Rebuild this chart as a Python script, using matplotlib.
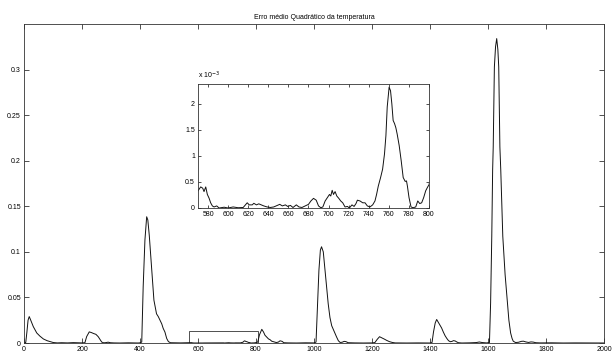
import numpy as np
from matplotlib import pyplot as plt

# Erro medio quadratico da temperatura
t_ini = [0, 6, 10, 14, 18, 22, 32, 44, 55, 67, 80, 90, 101, 115, 130, 150, 170, 185,
         200, 210, 216, 225, 232, 240, 248, 256, 262, 268, 275, 282, 290, 298, 310,
         330, 360, 394, 400, 406, 411, 417, 423, 427, 432, 440, 448, 457, 463, 469,
         475, 480, 486, 492, 498, 505, 520, 540, 560]
erro_ini = [0.0, 0.0005, 0.012, 0.025, 0.029, 0.026, 0.018, 0.011, 0.0075, 0.0044,
            0.0025, 0.0016, 0.0005, 0.0001, 0.0003, 0.0001, 0.0004, 0.0002, 0.0001,
            0.0003, 0.007, 0.0122, 0.0115, 0.0104, 0.0095, 0.0069, 0.004, 0.001,
            0.0002, 0.0004, 0.0009, 0.0003, 0.0001, 0.0, 0.0002, 0.0, 0.0002, 0.001,
            0.062, 0.113, 0.1385, 0.135, 0.118, 0.082, 0.047, 0.032, 0.029, 0.025,
            0.021, 0.016, 0.012, 0.005, 0.0015, 0.0003, 0.0002, 0.0001, 0.0002]

# trecho ampliado 570-800 (valores em 1e-3)
t_zoom = [570, 572.7, 574.7, 576, 577.7, 579.3, 581, 582.6, 584.3, 586, 588.6, 591,
          596, 600, 605, 610, 615, 619, 621, 624, 625.6, 628.2, 630.5, 632.9, 635.5,
          638.8, 642, 645.4, 651.4, 654, 657, 659.3, 662, 664.6, 667.9, 670.5, 673.5,
          676.8, 680, 682.4, 685, 687.7, 690, 692.3, 694.3, 696.6, 698.9, 700.9, 702.2,
          703.6, 704.9, 706.5, 708.2, 710.2, 712.1, 714.1, 716.4, 718.8, 720.7, 723.3,
          725.4, 727.3, 728.7, 731.3, 734, 736.3, 738.6, 741.2, 743.9, 746.2, 747.8,
          749.5, 751.8, 753.8, 755.7, 757.1, 758.4, 759.7, 760.3, 761.7, 763, 764.3,
          765.7, 767, 768.3, 770.3, 772.3, 774.3, 776.3, 777.6, 778.5, 780.1, 782.1,
          784.1, 786.8, 788.8, 790.8, 792.7, 794.7, 796.7, 798.7, 800]
erro_zoom_e3 = [0.33, 0.405, 0.38, 0.315, 0.405, 0.26, 0.19, 0.10, 0.04, 0.02, 0.04,
                0.0, 0.015, 0.0, 0.02, 0.005, 0.01, 0.10, 0.06, 0.06, 0.09, 0.06, 0.08,
                0.06, 0.04, 0.02, 0.01, 0.02, 0.07, 0.04, 0.06, 0.03, 0.05, 0.01, 0.06,
                0.02, 0.01, 0.04, 0.07, 0.135, 0.185, 0.15, 0.04, 0.005, 0.02, 0.135,
                0.2, 0.26, 0.23, 0.34, 0.26, 0.315, 0.23, 0.185, 0.135, 0.10, 0.02, 0.03,
                0.0, 0.06, 0.03, 0.085, 0.15, 0.135, 0.10, 0.1, 0.04, 0.02, 0.06, 0.135,
                0.26, 0.42, 0.585, 0.745, 1.04, 1.39, 1.94, 2.19, 2.32, 2.25, 2.0, 1.68,
                1.62, 1.54, 1.42, 1.2, 0.91, 0.585, 0.51, 0.52, 0.42, 0.2, 0.02, 0.005,
                0.02, 0.135, 0.085, 0.10, 0.2, 0.33, 0.405, 0.445]

t_fim = [806, 812, 820, 826, 831, 837, 843, 849, 854, 862, 870, 877, 883, 890, 896,
         910, 940, 970, 1000, 1007, 1011, 1017, 1022, 1026, 1032, 1038, 1044, 1049,
         1055, 1061, 1067, 1072, 1078, 1084, 1090, 1097, 1104, 1110, 1118, 1140, 1170,
         1200, 1210, 1218, 1226, 1235, 1243, 1251, 1260, 1270, 1280, 1320, 1360, 1400,
         1407, 1412, 1418, 1423, 1428, 1434, 1440, 1446, 1452, 1458, 1464, 1470, 1476,
         1481, 1487, 1492, 1498, 1510, 1540, 1560, 1570, 1580, 1595, 1605, 1609, 1613,
         1616, 1618, 1622, 1626, 1630, 1634, 1637, 1641, 1644, 1651, 1659, 1667, 1672,
         1678, 1683, 1687, 1695, 1705, 1715, 1722, 1730, 1740, 1748, 1756, 1765, 1780,
         1820, 1860, 1900, 1950, 2000]
erro_fim = [0.001, 0.009, 0.015, 0.012, 0.0085, 0.0065, 0.0045, 0.0035, 0.002, 0.0012,
            0.0005, 0.001, 0.0024, 0.0018, 0.0003, 0.0001, 0.0, 0.0002, 0.0001, 0.001,
            0.0325, 0.08, 0.102, 0.1056, 0.1, 0.08, 0.06, 0.043, 0.028, 0.019, 0.0145,
            0.011, 0.0065, 0.0025, 0.0006, 0.0008, 0.0018, 0.0015, 0.0003, 0.0001, 0.0,
            0.0001, 0.0005, 0.004, 0.0069, 0.0055, 0.0042, 0.0028, 0.0015, 0.0006,
            0.0001, 0.0, 0.0001, 0.0, 0.0005, 0.012, 0.022, 0.0258, 0.023, 0.0197,
            0.0165, 0.012, 0.008, 0.005, 0.0025, 0.0014, 0.0018, 0.0026, 0.0022, 0.0012,
            0.0003, 0.0, 0.0002, 0.0005, 0.0011, 0.0005, 0.0001, 0.0005, 0.044, 0.117,
            0.19, 0.215, 0.303, 0.325, 0.334, 0.322, 0.303, 0.215, 0.19, 0.117, 0.075,
            0.044, 0.025, 0.011, 0.005, 0.002, 0.0005, 0.0008, 0.0018, 0.002, 0.0012,
            0.0006, 0.0012, 0.001, 0.0003, 0.0001, 0.0002, 0.0, 0.0001, 0.0, 0.0]

plt.rcParams['font.family'] = ['Liberation Sans', 'DejaVu Sans']
plt.rcParams['font.size'] = 5

t = np.array(t_ini + t_zoom + t_fim, dtype=float)
erro = np.array(erro_ini + [v * 1e-3 for v in erro_zoom_e3] + erro_fim)

fig = plt.figure(figsize=(6.16, 3.54), dpi=100)
ax = fig.add_axes([24 / 616, 11 / 354, 580 / 616, 319 / 354])
ax.plot(t, erro, color='#111111', lw=0.7)
ax.set_xlim(0, 2000)
ax.set_ylim(0, 0.35)
ax.set_xticks(np.arange(0, 2001, 200))
ax.set_yticks([0, 0.05, 0.1, 0.15, 0.2, 0.25, 0.3])
ax.set_yticklabels(['0', '0.05', '0.1', '0.15', '0.2', '0.25', '0.3'])
ax.tick_params(direction='in', top=True, right=True, length=3.8, width=0.6,
               pad=2.2, colors='#333333', labelcolor='black')
for s in ax.spines.values():
    s.set_linewidth(0.6)
    s.set_color('#333333')
ax.set_title('Erro médio Quadrático da temperatura', fontsize=5, pad=3.5)

# retangulo marcando o trecho ampliado
ax.add_patch(plt.Rectangle((570, 0), 238, 0.0135, fill=False, lw=0.6,
                           edgecolor='#333333'))

# grafico ampliado
axi = fig.add_axes([198 / 616, 146 / 354, 231 / 616, 124 / 354])
axi.plot(t, erro, color='#111111', lw=0.7)
axi.set_xlim(570, 800)
axi.set_ylim(0, 2.38e-3)
axi.set_xticks(np.arange(580, 801, 20))
axi.set_yticks([0, 0.5e-3, 1e-3, 1.5e-3, 2e-3])
axi.set_yticklabels(['0', '0.5', '1', '1.5', '2'])
axi.tick_params(direction='in', top=True, right=True, length=2.2, width=0.6,
                pad=2.2, colors='#333333', labelcolor='black')
for s in axi.spines.values():
    s.set_linewidth(0.6)
    s.set_color('#333333')
axi.text(0, 1.025, 'x 10$^{-3}$', transform=axi.transAxes, fontsize=5,
         ha='left', va='bottom')

fig.savefig('out.png', dpi=100)
